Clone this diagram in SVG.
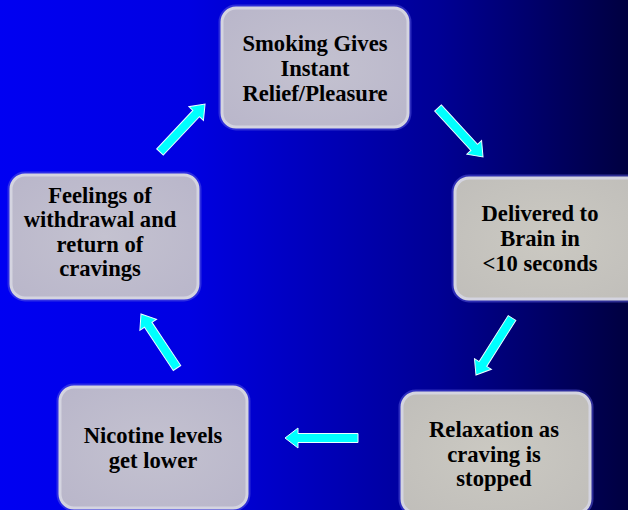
<svg xmlns="http://www.w3.org/2000/svg" width="628" height="510" viewBox="0 0 628 510">
<style>
.box{stroke:#d4d4e0;stroke-width:3}
.halo{fill:none;stroke:#5a5ae0;stroke-width:3;opacity:0.5}
.lav{fill:url(#gLav)}
.beige{fill:url(#gBeige)}
.t{font-family:"Liberation Serif","Times New Roman",serif;font-weight:bold;font-size:22.6px;fill:#000;text-anchor:middle}
.arrow{fill:#00ffff;stroke:#e8ffff;stroke-width:1}
</style>
<defs>
<linearGradient id="bg" x1="0" y1="0" x2="1" y2="0">
<stop offset="0" stop-color="#0000f2"/>
<stop offset="0.3" stop-color="#0000e2"/>
<stop offset="0.7" stop-color="#000094"/>
<stop offset="1" stop-color="#000040"/>
</linearGradient>
<radialGradient id="gLav" cx="0.5" cy="0.5" r="0.7">
<stop offset="0" stop-color="#c4c2d0"/>
<stop offset="1" stop-color="#b9b6ca"/>
</radialGradient>
<radialGradient id="gBeige" cx="0.5" cy="0.5" r="0.7">
<stop offset="0" stop-color="#cbc9c2"/>
<stop offset="1" stop-color="#c0beba"/>
</radialGradient>
</defs>
<rect x="0" y="0" width="628" height="510" fill="url(#bg)"/>
<g id="connectors">
<path class="arrow" transform="translate(160,152) rotate(-46.8)" d="M0,-4.5 L52.8,-4.5 L52.8,-10 L65.8,0 L52.8,10 L52.8,4.5 L0,4.5 Z"/>
<path class="arrow" transform="translate(438,108) rotate(47.4)" d="M0,-4.5 L53.5,-4.5 L53.5,-10 L66.5,0 L53.5,10 L53.5,4.5 L0,4.5 Z"/>
<path class="arrow" transform="translate(512,318) rotate(122.3)" d="M0,-4.5 L54.4,-4.5 L54.4,-10 L67.4,0 L54.4,10 L54.4,4.5 L0,4.5 Z"/>
<path class="arrow" transform="translate(358,438) rotate(180)" d="M0,-4.5 L60,-4.5 L60,-10 L73,0 L60,10 L60,4.5 L0,4.5 Z"/>
<path class="arrow" transform="translate(177,368) rotate(-123.7)" d="M0,-4.5 L51.9,-4.5 L51.9,-10 L64.9,0 L51.9,10 L51.9,4.5 L0,4.5 Z"/>
</g>
<g id="node-smoking">
<rect class="halo" x="220" y="6" width="190" height="123" rx="16"/>
<rect class="box lav" x="222" y="8" width="186" height="119" rx="14"/>
<text class="t" x="315" y="51">Smoking Gives</text>
<text class="t" x="315" y="76">Instant</text>
<text class="t" x="315" y="101">Relief/Pleasure</text>
</g>
<g id="node-brain">
<rect class="halo" x="453" y="176" width="190" height="125" rx="16"/>
<rect class="box beige" x="455" y="178" width="186" height="121" rx="14"/>
<text class="t" x="540" y="221">Delivered to</text>
<text class="t" x="540" y="246">Brain in</text>
<text class="t" x="540" y="271">&lt;10 seconds</text>
</g>
<g id="node-relax">
<rect class="halo" x="400" y="391" width="192" height="124" rx="16"/>
<rect class="box beige" x="402" y="393" width="188" height="120" rx="14"/>
<text class="t" x="494" y="437">Relaxation as</text>
<text class="t" x="494" y="462">craving is</text>
<text class="t" x="494" y="486">stopped</text>
</g>
<g id="node-nicotine">
<rect class="halo" x="58" y="385" width="191" height="125" rx="16"/>
<rect class="box lav" x="60" y="387" width="187" height="121" rx="14"/>
<text class="t" x="153" y="443">Nicotine levels</text>
<text class="t" x="153" y="468">get lower</text>
</g>
<g id="node-withdrawal">
<rect class="halo" x="9" y="173" width="191" height="127" rx="16"/>
<rect class="box lav" x="11" y="175" width="187" height="123" rx="14"/>
<text class="t" x="100" y="203">Feelings of</text>
<text class="t" x="100" y="227">withdrawal and</text>
<text class="t" x="100" y="252">return of</text>
<text class="t" x="100" y="276">cravings</text>
</g>
</svg>
